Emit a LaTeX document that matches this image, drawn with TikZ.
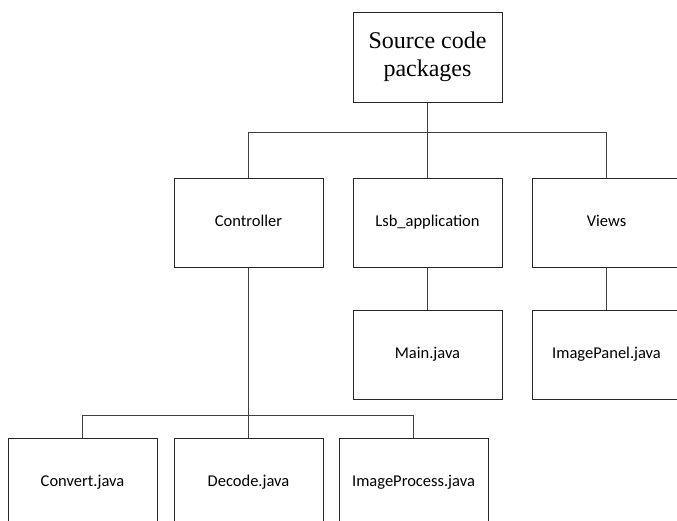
\documentclass[tikz,border=0pt]{standalone}
\usepackage{fontspec}
\setmainfont{Carlito}
\newfontfamily\serifhead{Liberation Serif}
\usepackage{tikz}
\usetikzlibrary{positioning}
\tikzset{
  pkg/.style={draw=black!85, line width=1pt, fill=white, minimum width=149pt, minimum height=89pt, align=center, inner sep=2pt},
  rootpkg/.style={pkg, minimum height=90pt, font=\serifhead\fontsize{24}{28}\selectfont},
  leaf/.style={font=\fontsize{16.5}{19}\selectfont, text height=1.7ex, text depth=.1ex},
  link/.style={draw=black!75, line width=0.9pt},
}

\begin{document}
\begin{tikzpicture}[x=1pt, y=-1pt]
\useasboundingbox (0,0) rectangle (677,520);
% package tree
\node[rootpkg] (root) at (427.5,57) {Source code\\packages};
\node[pkg, leaf, below=75pt of root] (lsb) {Lsb\_application};
\node[pkg, leaf, left=29pt of lsb] (ctrl) {Controller};
\node[pkg, leaf, right=29pt of lsb] (views) {Views};
\node[pkg, leaf, below=42pt of lsb] (main) {Main.java};
\node[pkg, leaf, below=42pt of views] (panel) {ImagePanel.java};
\node[pkg, leaf, below=170pt of ctrl] (decode) {Decode.java};
\node[pkg, leaf, left=16pt of decode] (convert) {Convert.java};
\node[pkg, leaf, right=15pt of decode] (improc) {ImageProcess.java};

% connectors
\draw[link] (root) -- (lsb);
\draw[link] (ctrl.north) |- ([yshift=-30pt]root.south) -| (views.north);
\draw[link] (lsb) -- (main);
\draw[link] (views) -- (panel);
\draw[link] (ctrl) -- (decode);
\draw[link] (convert.north) |- ([yshift=-148pt]ctrl.south) -| (improc.north);
\end{tikzpicture}
\end{document}
